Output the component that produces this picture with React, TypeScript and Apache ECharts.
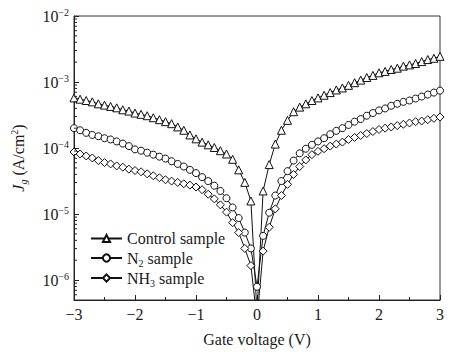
import React, { useEffect, useRef } from "react";
import * as echarts from "echarts";

// Gate voltage (V)
const voltages = [
  -3.0, -2.9, -2.8, -2.7, -2.6, -2.5, -2.4, -2.3, -2.2, -2.1,
  -2.0, -1.9, -1.8, -1.7, -1.6, -1.5, -1.4, -1.3, -1.2, -1.1,
  -1.0, -0.9, -0.8, -0.7, -0.6, -0.5, -0.4, -0.3, -0.2, -0.1,
  0.0,
  0.1, 0.2, 0.3, 0.4, 0.5, 0.6, 0.7, 0.8, 0.9, 1.0,
  1.1, 1.2, 1.3, 1.4, 1.5, 1.6, 1.7, 1.8, 1.9, 2.0,
  2.1, 2.2, 2.3, 2.4, 2.5, 2.6, 2.7, 2.8, 2.9, 3.0,
];

// Jg (A/cm^2)
const controlJ = [
  5.75e-4, 5.5e-4, 5.25e-4, 5.01e-4, 4.68e-4, 4.47e-4, 4.27e-4, 4.07e-4, 3.8e-4, 3.63e-4,
  3.39e-4, 3.24e-4, 3.09e-4, 2.88e-4, 2.69e-4, 2.51e-4, 2.34e-4, 2.09e-4, 1.86e-4, 1.58e-4,
  1.38e-4, 1.23e-4, 1.12e-4, 1.02e-4, 9.12e-5, 8.13e-5, 6.76e-5, 4.68e-5, 3.02e-5, 1.58e-5,
  3.2e-7,
  2.24e-5, 5.62e-5, 1.15e-4, 1.86e-4, 2.63e-4, 3.55e-4, 4.17e-4, 4.68e-4, 5.25e-4, 5.75e-4,
  6.31e-4, 6.92e-4, 7.59e-4, 8.13e-4, 8.91e-4, 9.77e-4, 1.07e-3, 1.17e-3, 1.26e-3, 1.38e-3,
  1.45e-3, 1.55e-3, 1.62e-3, 1.74e-3, 1.82e-3, 1.91e-3, 2.04e-3, 2.19e-3, 2.29e-3, 2.45e-3,
];

const n2J = [
  2.0e-4, 1.86e-4, 1.7e-4, 1.58e-4, 1.51e-4, 1.41e-4, 1.35e-4, 1.26e-4, 1.17e-4, 1.07e-4,
  9.55e-5, 9.12e-5, 8.51e-5, 7.94e-5, 7.41e-5, 6.92e-5, 6.31e-5, 5.75e-5, 5.25e-5, 4.68e-5,
  4.17e-5, 3.63e-5, 3.16e-5, 2.69e-5, 2.24e-5, 1.74e-5, 1.26e-5, 8.71e-6, 5.25e-6, 3.02e-6,
  7.94e-7,
  4.68e-6, 1.05e-5, 1.91e-5, 3.16e-5, 4.47e-5, 6.46e-5, 8.32e-5, 9.77e-5, 1.12e-4, 1.26e-4,
  1.41e-4, 1.62e-4, 1.82e-4, 2.0e-4, 2.24e-4, 2.51e-4, 2.75e-4, 3.09e-4, 3.39e-4, 3.72e-4,
  3.98e-4, 4.37e-4, 4.68e-4, 5.01e-4, 5.25e-4, 5.62e-4, 6.03e-4, 6.46e-4, 6.92e-4, 7.41e-4,
];

const nh3J = [
  8.71e-5, 8.13e-5, 7.59e-5, 7.08e-5, 6.46e-5, 6.03e-5, 5.75e-5, 5.37e-5, 5.13e-5, 4.79e-5,
  4.57e-5, 4.37e-5, 4.07e-5, 3.8e-5, 3.55e-5, 3.31e-5, 3.16e-5, 3.02e-5, 2.88e-5, 2.75e-5,
  2.57e-5, 2.34e-5, 2.0e-5, 1.7e-5, 1.38e-5, 1.07e-5, 7.41e-6, 5.25e-6, 3.02e-6, 1.66e-6,
  2.5e-7,
  2.75e-6, 6.31e-6, 1.2e-5, 1.91e-5, 2.82e-5, 3.98e-5, 5.25e-5, 6.61e-5, 7.94e-5, 8.91e-5,
  9.77e-5, 1.07e-4, 1.15e-4, 1.23e-4, 1.35e-4, 1.45e-4, 1.55e-4, 1.66e-4, 1.78e-4, 1.91e-4,
  2.0e-4, 2.09e-4, 2.19e-4, 2.29e-4, 2.4e-4, 2.51e-4, 2.57e-4, 2.69e-4, 2.82e-4, 2.95e-4,
];

const seriesNames = ["Control sample", "N2 sample", "NH3 sample"];
const legendLabels: Record<string, string> = {
  "Control sample": "Control sample",
  "N2 sample": "N{sub|2} sample",
  "NH3 sample": "NH{sub|3} sample",
};
const seriesSymbols = ["triangle", "circle", "diamond"];
const seriesSymbolSizes = [8, 7, 8];

const xMin = -3;
const xMax = 3;
const yMin = 5e-7;
const yMax = 1e-2;

const FONT = "'Liberation Serif', 'Times New Roman', serif";
const INK = "#1a1a1a";

export default function App() {
  const ref = useRef<HTMLDivElement>(null);

  useEffect(() => {
    const chart = echarts.init(ref.current!, null, { renderer: "svg" });

    const seriesData = [controlJ, n2J, nh3J];

    // log-spaced minor tick values (2..9 per decade) within the axis range
    const minorVals: number[] = [];
    for (let e = -7; e <= -3; e++) {
      for (let m = 2; m <= 9; m++) {
        const v = m * Math.pow(10, e);
        if (v > yMin * 1.01 && v < yMax) minorVals.push(v);
      }
    }

    const lineSeries = seriesNames.map((name, i) => ({
      name,
      type: "line",
      data: voltages.map((v, k) => [v, seriesData[i][k]]),
      symbol: seriesSymbols[i],
      symbolSize: seriesSymbolSizes[i],
      showAllSymbol: true,
      lineStyle: { color: "#111", width: 1 },
      itemStyle: { color: "#fff", borderColor: "#111", borderWidth: 1 },
      z: 3,
    }));

    const sup = (e: number) => (e < 0 ? "\u2212" + Math.abs(e) : String(e));

    chart.setOption({
      animation: false,
      textStyle: { fontFamily: FONT, color: INK },
      grid: {
        left: 72,
        right: 20,
        top: 16,
        bottom: 54,
        show: true,
        borderColor: "#333",
        borderWidth: 1,
        backgroundColor: "transparent",
      },
      legend: {
        data: seriesNames,
        orient: "vertical",
        left: 90,
        top: 229,
        padding: 0,
        itemGap: 0,
        itemWidth: 31,
        itemHeight: 9,
        formatter: (name: string) => legendLabels[name] || name,
        textStyle: {
          fontFamily: FONT,
          fontSize: 16,
          color: INK,
          lineHeight: 19,
          rich: {
            sub: { fontFamily: FONT, fontSize: 10, color: INK, lineHeight: 19, padding: [10, 0, 0, 0] },
          },
        },
      },
      xAxis: {
        type: "value",
        min: xMin,
        max: xMax,
        interval: 1,
        name: "Gate voltage (V)",
        nameLocation: "middle",
        nameGap: 31,
        nameTextStyle: { fontFamily: FONT, fontSize: 16, color: INK },
        axisLine: { onZero: false, lineStyle: { color: "#222", width: 1 } },
        axisTick: { inside: true, length: 5, lineStyle: { color: "#222" } },
        minorTick: { show: true, splitNumber: 2, length: 3, lineStyle: { color: "#222" } },
        splitLine: { show: false },
        axisLabel: {
          margin: 6,
          fontFamily: FONT,
          fontSize: 16,
          color: INK,
          formatter: (v: number) => (v < 0 ? "\u2212" + Math.abs(v) : String(v)),
        },
      },
      yAxis: {
        type: "log",
        logBase: 10,
        min: yMin,
        max: yMax,
        name: "{i|J}{isub|g}{n| (A/cm}{sp|2}{n|)}",
        nameLocation: "middle",
        nameGap: 46,
        nameTextStyle: {
          fontFamily: FONT,
          fontSize: 16,
          color: INK,
          rich: {
            i: { fontFamily: FONT, fontSize: 16, fontStyle: "italic", color: INK, lineHeight: 20 },
            isub: { fontFamily: FONT, fontSize: 10, fontStyle: "italic", color: INK, lineHeight: 20, padding: [10, 0, 0, 0] },
            n: { fontFamily: FONT, fontSize: 16, color: INK, lineHeight: 20 },
            sp: { fontFamily: FONT, fontSize: 10, color: INK, lineHeight: 20, padding: [0, 0, 8, 0] },
          },
        },
        axisLine: { onZero: false, lineStyle: { color: "#222", width: 1 } },
        axisTick: { inside: true, length: 5, lineStyle: { color: "#222" } },
        splitLine: { show: false },
        axisLabel: {
          margin: 5,
          fontFamily: FONT,
          fontSize: 16,
          color: INK,
          formatter: (v: number) => {
            const e = Math.log10(v);
            const r = Math.round(e);
            if (Math.abs(e - r) > 0.01) return "";
            return "10{s|" + sup(r) + "}";
          },
          rich: {
            s: { fontFamily: FONT, fontSize: 10, color: INK, lineHeight: 18, padding: [0, 0, 8, 0] },
          },
        },
      },
      series: [
        ...lineSeries,
        {
          type: "custom",
          name: "minorTicks",
          silent: true,
          clip: false,
          z: 4,
          data: minorVals.map((v) => [xMin, v]),
          encode: { x: 0, y: 1 },
          renderItem: (_params: any, api: any) => {
            const p = api.coord([api.value(0), api.value(1)]);
            return {
              type: "line",
              shape: { x1: p[0], y1: p[1], x2: p[0] + 3, y2: p[1] },
              style: { stroke: "#222", lineWidth: 1 },
            };
          },
        },
      ],
    });

    return () => chart.dispose();
  }, []);

  return (
    <div
      ref={ref}
      style={{ position: "absolute", left: 0, top: 0, width: 460, height: 354 }}
    />
  );
}
